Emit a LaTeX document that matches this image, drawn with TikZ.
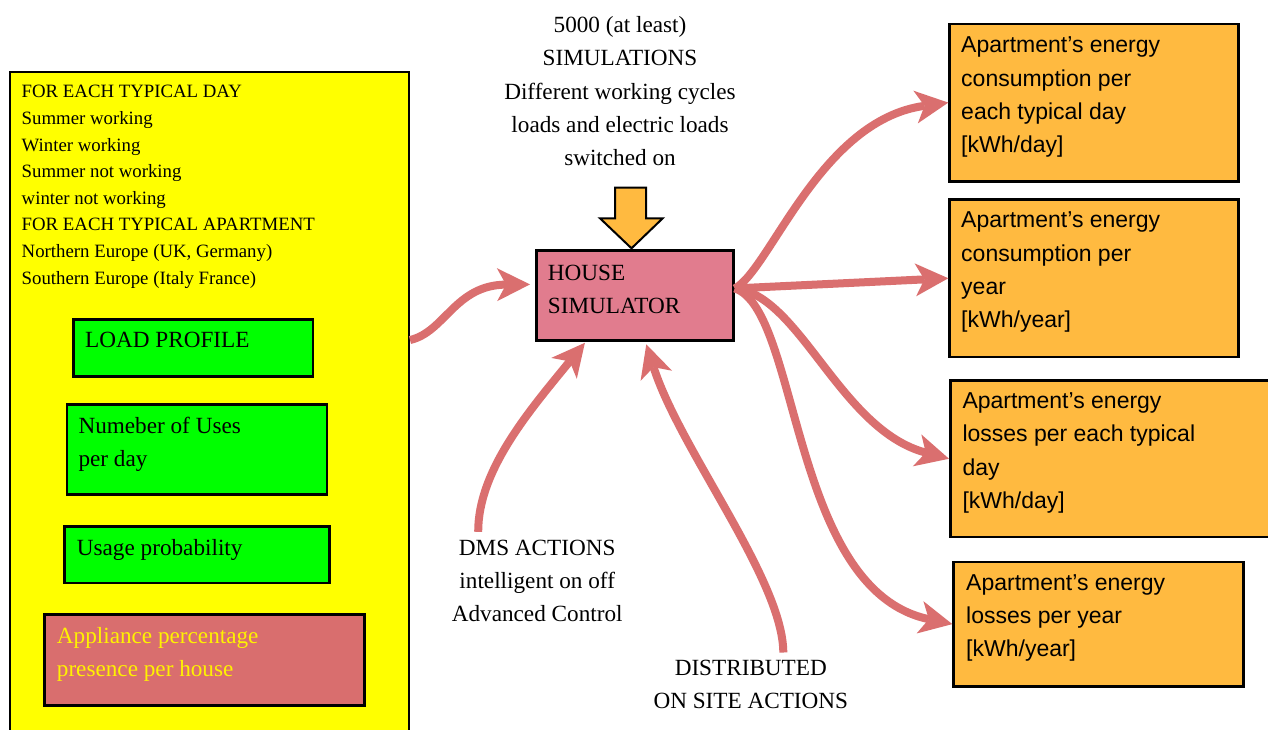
\documentclass[tikz,border=0pt]{standalone}
\usepackage{fontspec}
\setmainfont{Liberation Serif}
\newfontfamily\sansf{Liberation Sans}
\usetikzlibrary{arrows.meta,calc}
\definecolor{flowc}{HTML}{DA6F6F}
\definecolor{simc}{HTML}{E17C8E}
\definecolor{redc}{HTML}{D96E6E}
\definecolor{orc}{HTML}{FFBA40}
\definecolor{ylw}{HTML}{FFFF00}
\definecolor{grn}{HTML}{00FF00}
\definecolor{txty}{HTML}{FFF200}
\newcommand\tstrut{\rule{0pt}{1em}}
\begin{document}
\begin{tikzpicture}[x=1pt,y=-1pt,
  box/.style={draw=black, line width=2.5pt, inner sep=0, anchor=north west},
  txt/.style={inner sep=0, anchor=north west, align=left, font=\fontsize{23.2}{33.3}\selectfont},
  ctxt/.style={inner sep=0, anchor=north, align=center, font=\fontsize{23.2}{33.3}\selectfont},
  stxt/.style={inner sep=0, anchor=north west, align=left, font=\sansf\fontsize{23}{33.3}\selectfont},
  flow/.style={draw=flowc, line width=8pt, -{Stealth[length=33pt,width=33pt,inset=9pt,line width=0pt]}}
]
\useasboundingbox (0,0) rectangle (1268,729);
\fill[white] (0,0) rectangle (1268,729);

% left big box
\node[box, line width=2pt, fill=ylw, minimum width=399, minimum height=690] (big) at (9,71) {};
\node[inner sep=0, anchor=north west, align=left, font=\fontsize{18.8}{26.6}\selectfont] (bigt) at (21.5,78.9)
 {\tstrut FOR EACH TYPICAL DAY\\Summer working\\Winter working\\Summer not working\\winter not working\\FOR EACH TYPICAL APARTMENT\\Northern Europe (UK, Germany)\\Southern Europe (Italy France)};

\node[box, fill=grn, minimum width=239.4, minimum height=56.7] (g1) at (72.3,318.3) {};
\node[txt] (g1t) at (85,324.5) {\tstrut LOAD PROFILE};
\node[box, fill=grn, minimum width=260, minimum height=90] (g2) at (65.7,403.3) {};
\node[txt, font=\fontsize{23.2}{32.6}\selectfont] (g2t) at (78.3,410.1) {\tstrut Numeber of Uses\\per day};
\node[box, fill=grn, minimum width=265, minimum height=56.7] (g3) at (63,525) {};
\node[txt] (g3t) at (76.7,531.8) {\tstrut Usage probability};
\node[box, fill=redc, minimum width=320, minimum height=90.7] (rb) at (43.3,613.3) {};
\node[txt, text=txty] (rbt) at (56.7,620.1) {\tstrut Appliance percentage\\presence per house};

% house simulator
\node[box, fill=simc, minimum width=197.3, minimum height=90.3] (sim) at (535,249) {};
\node[txt] (simt) at (547.7,256.8) {\tstrut HOUSE\\SIMULATOR};

% top text and block arrow
\node[ctxt] (top) at (620,9.1) {\tstrut 5000 (at least)\\SIMULATIONS\\Different working cycles\\loads and electric loads\\switched on};
\draw[fill=orc, draw=black, line width=2pt, line join=miter]
  (615,187.7) -- (646,187.7) -- (646,218.3) -- (662.7,218.3) -- (631.5,248.3) -- (600,218.3) -- (615,218.3) -- cycle;

% bottom texts
\node[ctxt] (dms) at (537.2,531.8) {\tstrut DMS ACTIONS\\intelligent on off\\Advanced Control};
\node[ctxt, font=\fontsize{23.2}{32.6}\selectfont] (dist) at (750.8,652.5) {\tstrut DISTRIBUTED\\ON SITE ACTIONS};

% right boxes
\node[box, fill=orc, minimum width=288.7, minimum height=157.3] (out1) at (948.3,22.7) {};
\node[stxt] (out1t) at (961,29.7) {\tstrut Apartment’s energy\\consumption per\\each typical day\\{[kWh/day]}};
\node[box, fill=orc, minimum width=288.7, minimum height=157.4] (out2) at (948.3,198.3) {};
\node[stxt] (out2t) at (961,204.7) {\tstrut Apartment’s energy\\consumption per\\year\\{[kWh/year]}};
\node[box, fill=orc, minimum width=340, minimum height=156.4] (out3) at (949,379.3) {};
\node[stxt] (out3t) at (962.3,385.3) {\tstrut Apartment’s energy\\losses per each typical\\day\\{[kWh/day]}};
\node[box, fill=orc, minimum width=290, minimum height=124.3] (out4) at (952.3,560.7) {};
\node[stxt] (out4t) at (966,567) {\tstrut Apartment’s energy\\losses per year\\{[kWh/year]}};

% connectors
\draw[flow] (big.21.6) .. controls (445,332) and (455,285) .. ($(sim.west)+(-5,-11)$);
\draw[flow] ($(dms.north)+(-59,0)$) .. controls (478,470) and (530,410) .. ($(sim.south)+(-50,1)$);
\draw[flow] ($(dist.north)+(32.5,0)$) .. controls (783,580) and (680,450) .. ($(sim.south)+(11.4,2.5)$);
\draw[flow] (sim.4) .. controls (770,270) and (820,120) .. (out1.west);
\draw[flow] (sim.4) -- (out2.west);
\draw[flow] (sim.4) .. controls (800,295) and (840,430) .. (out3.west);
\draw[flow] (sim.4) .. controls (800,310) and (790,590) .. (out4.west);
\end{tikzpicture}
\end{document}
